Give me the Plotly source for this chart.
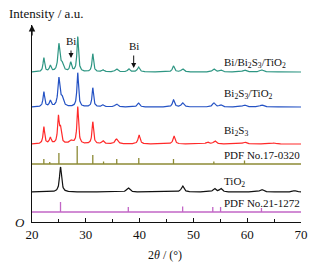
import numpy as np
import plotly.graph_objects as go

# ---------------- data ----------------
# peak positions (2theta, deg), heights (a.u.), widths (FWHM, deg)
bbt_pos = [22.2, 23.4, 25.0, 25.6, 27.2, 28.5, 31.3, 33.2, 35.7, 38.0, 39.8, 46.3, 48.0, 53.8, 55.1, 59.5, 62.7]
bbt_ht = [14, 6, 27, 7, 9, 35, 18, 2, 3, 3, 5, 6, 3, 3, 2, 2, 2]
bbt_w = [0.35, 0.4, 0.45, 0.6, 0.4, 0.35, 0.35, 0.5, 0.6, 0.5, 0.5, 0.45, 0.6, 0.6, 0.6, 0.8, 0.8]

bt_pos = [22.2, 23.4, 25.0, 25.6, 28.5, 31.3, 33.2, 35.7, 39.8, 46.3, 48.0, 53.8, 55.1, 59.5, 62.7]
bt_ht = [15, 6, 28, 8, 34, 19, 2, 3, 4, 7, 4, 4, 2, 2, 2]
bt_w = [0.35, 0.4, 0.45, 0.6, 0.35, 0.35, 0.5, 0.6, 0.5, 0.45, 0.6, 0.6, 0.6, 0.8, 0.8]

bs_pos = [22.2, 23.4, 24.9, 25.3, 27.3, 28.5, 31.3, 33.2, 35.7, 39.9, 46.4, 52.6, 54.0, 59.5, 65.0]
bs_ht = [17, 6, 26, 14, 3, 37, 22, 3, 5, 9, 8, 2, 3, 2, 1]
bs_w = [0.35, 0.4, 0.35, 0.4, 0.8, 0.35, 0.35, 0.5, 0.6, 0.45, 0.45, 0.6, 0.6, 0.8, 0.8]

tio2_pos = [25.3, 37.9, 48.0, 53.9, 55.1, 62.7, 68.8]
tio2_ht = [25, 4, 6, 3.5, 3.5, 2.5, 1.5]
tio2_w = [0.45, 0.7, 0.6, 0.6, 0.6, 0.8, 0.7]

pdf_bs_pos = [22.2, 23.3, 25.0, 28.4, 31.3, 33.3, 35.75, 39.85, 46.3, 53.8, 59.5]
pdf_bs_ht = [5, 2, 11, 18, 9, 2.5, 5, 6, 5, 2.5, 3.5]

pdf_ti_pos = [25.3, 37.9, 48.0, 53.6, 55.05, 62.65]
pdf_ti_ht = [10, 5, 5.5, 5, 5, 4]

series_labels = ["Bi/Bi<sub>2</sub>S<sub>3</sub>/TiO<sub>2</sub>",
                 "Bi<sub>2</sub>S<sub>3</sub>/TiO<sub>2</sub>",
                 "Bi<sub>2</sub>S<sub>3</sub>",
                 "PDF No.17-0320",
                 "TiO<sub>2</sub>",
                 "PDF No.21-1272"]
x_ticks = [20, 30, 40, 50, 60, 70]

# ---------------- drawing ----------------
x = np.linspace(20, 70, 1201)


def profile(pos, ht, w):
    y = np.zeros_like(x)
    for p, h, fw in zip(pos, ht, w):
        g = (fw / 2) ** 2
        y += h * g / ((x - p) ** 2 + g)
    return y


def sticks(pos, ht, base):
    xs, ys = [], []
    for p, h in zip(pos, ht):
        xs += [p, p, None]
        ys += [base, base + h, None]
    return xs, ys


SERIF = "Liberation Serif, Times New Roman, Times, serif"
INK = "#111111"
fig = go.Figure()

curves = [
    (bbt_pos, bbt_ht, bbt_w, 150, "#2e9683"),
    (bt_pos, bt_ht, bt_w, 115, "#2452c4"),
    (bs_pos, bs_ht, bs_w, 78, "#ff2a2a"),
    (tio2_pos, tio2_ht, tio2_w, 30, INK),
]
for pos, ht, w, base, col in curves:
    fig.add_trace(go.Scatter(x=x, y=base + profile(pos, ht, w), mode="lines",
                             line=dict(color=col, width=1.2), hoverinfo="skip"))

for pos, ht, base, col in [(pdf_bs_pos, pdf_bs_ht, 58, "#8c8a35"),
                           (pdf_ti_pos, pdf_ti_ht, 10, "#c266c6")]:
    fig.add_trace(go.Scatter(x=[20, 70], y=[base, base], mode="lines",
                             line=dict(color=col, width=1.3), hoverinfo="skip"))
    sx, sy = sticks(pos, ht, base)
    fig.add_trace(go.Scatter(x=sx, y=sy, mode="lines",
                             line=dict(color=col, width=1.3), hoverinfo="skip"))

label_y = [159.5, 128, 91, 67, 40, 19.5]
ann = []
for txt, yy in zip(series_labels, label_y):
    ann.append(dict(x=55.4, y=yy, xref="x", yref="y", text=txt, showarrow=False,
                    xanchor="left", yanchor="middle",
                    font=dict(family=SERIF, size=11, color=INK)))

# Bi markers
for bx, tip, tail in [(27.25, 164, 173), (38.9, 154, 168)]:
    ann.append(dict(x=bx, y=tip, xref="x", yref="y", ax=bx, ay=tail, axref="x", ayref="y",
                    text="", showarrow=True, arrowhead=2, arrowsize=1, arrowwidth=1,
                    arrowcolor=INK, standoff=0, startstandoff=0))
    ann.append(dict(x=bx, y=tail, xref="x", yref="y", text="Bi", showarrow=False,
                    xanchor="center", yanchor="bottom",
                    font=dict(family=SERIF, size=11, color=INK)))

# y axis arrow
ann.append(dict(x=20, y=197, xref="x", yref="y", ax=20, ay=185, axref="x", ayref="y",
                text="", showarrow=True, arrowhead=2, arrowsize=1, arrowwidth=1.3,
                arrowcolor=INK, standoff=0))
ann.append(dict(x=0, y=1.056, xref="paper", yref="paper", xshift=-25, text="Intensity / a.u.",
                showarrow=False, xanchor="left", yanchor="middle",
                font=dict(family=SERIF, size=13, color=INK)))
ann.append(dict(x=0, y=0, xref="paper", yref="paper", xshift=-5, text="<i>O</i>",
                showarrow=False, xanchor="right", yanchor="middle",
                font=dict(family=SERIF, size=13, color=INK)))
ann.append(dict(x=0.496, y=-0.1675, xref="paper", yref="paper", text="2<i>θ</i> / (°)",
                showarrow=False, xanchor="center", yanchor="middle",
                font=dict(family=SERIF, size=12, color=INK)))

fig.update_layout(
    width=320, height=267,
    margin=dict(l=32, r=16, t=25, b=45),
    paper_bgcolor="white", plot_bgcolor="white",
    showlegend=False,
    annotations=ann,
    font=dict(family=SERIF, color=INK),
    xaxis=dict(range=[20, 70], tickvals=x_ticks, ticks="inside", ticklen=4,
               tickcolor=INK, tickwidth=1,
               minor=dict(dtick=5, tick0=20, ticks="inside", ticklen=2.5, tickcolor=INK),
               showline=True, linecolor=INK, linewidth=1.3, showgrid=False, zeroline=False,
               tickfont=dict(family=SERIF, size=13, color=INK)),
    yaxis=dict(range=[0, 197], showticklabels=False, ticks="", showline=True,
               linecolor=INK, linewidth=1.3, showgrid=False, zeroline=False),
)

fig.write_html("out.html", config={"displayModeBar": False},
               post_script="document.body.style.margin='0';")
